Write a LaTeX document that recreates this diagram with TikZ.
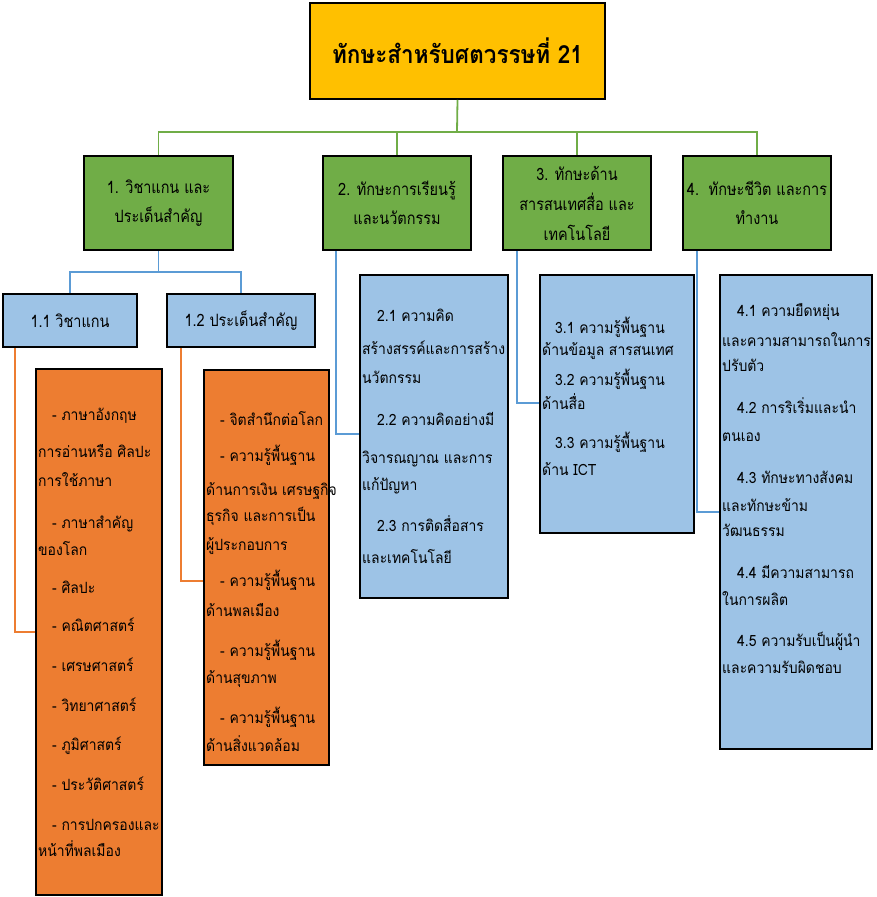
\documentclass[tikz,border=0pt]{standalone}
\usepackage{fontspec}
\setmainfont{Loma}[Script=Thai, FakeStretch=0.9]
\newfontfamily\gfont{Loma}[Script=Thai, FakeStretch=0.85]
\definecolor{gold}{HTML}{FFC000}
\definecolor{grn}{HTML}{70AD47}
\definecolor{bfill}{HTML}{9DC3E6}
\definecolor{bline}{HTML}{5B9BD5}
\definecolor{orng}{HTML}{ED7D31}
\tikzset{
  box/.style={draw=black, line width=1.8pt, inner sep=0pt, align=center},
  bigbox/.style={draw=black, line width=1.4pt, inner sep=0pt},
  gl/.style={draw=grn, line width=1.8pt},
  bl/.style={draw=bline, line width=1.6pt},
  ol/.style={draw=orng, line width=1.6pt},
  ln/.style={font=\fontsize{15.5}{18}\selectfont, text height=11pt, text depth=4pt, inner sep=0pt, anchor=west},
  gtext/.style={font=\gfont\fontsize{17}{29}\selectfont}
}
\begin{document}
\begin{tikzpicture}[x=1pt,y=-1pt]
\useasboundingbox (0,0) rectangle (877,897);
% title
\node[box, fill=gold, minimum width=295pt, minimum height=96pt, font=\fontsize{25}{30}\selectfont\bfseries] (title) at (457.5,51) {ทักษะสำหรับศตวรรษที่ 21};
% green boxes
\node[box, fill=grn, gtext, minimum width=149pt, minimum height=94pt] (g1) at (158.5,203) {1. วิชาแกน และ\\ประเด็นสำคัญ};
\node[box, fill=grn, gtext, minimum width=148pt, minimum height=94pt] (g2) at (397,203) {2. ทักษะการเรียนรู้\\และนวัตกรรม};
\node[box, fill=grn, minimum width=148pt, minimum height=94pt, font=\gfont\fontsize{17}{30}\selectfont] (g3) at (577,203) {3. ทักษะด้าน\\สารสนเทศสื่อ และ\\เทคโนโลยี};
\node[box, fill=grn, gtext, minimum width=148pt, minimum height=94pt] (g4) at (757,203) {4.\ \ ทักษะชีวิต และการ\\ทำงาน};
% small blue boxes
\node[box, fill=bfill, gtext, minimum width=134pt, minimum height=53pt] (s11) at (70,320.5) {1.1 วิชาแกน};
\node[box, fill=bfill, gtext, minimum width=148pt, minimum height=53pt] (s12) at (241,320.5) {1.2 ประเด็นสำคัญ};
% big boxes
\node[bigbox, fill=orng, minimum width=126pt, minimum height=526pt] (o1) at (99,632) {};
\node[bigbox, fill=orng, minimum width=125pt, minimum height=395pt] (o2) at (266.5,567.5) {};
\node[bigbox, fill=bfill, minimum width=148pt, minimum height=323pt] (b2) at (434,436.5) {};
\node[bigbox, fill=bfill, minimum width=154pt, minimum height=258pt] (b3) at (617,404) {};
\node[bigbox, fill=bfill, minimum width=152pt, minimum height=474pt] (b4) at (796,512) {};
% connectors
\coordinate (gbus) at (457,132);
\draw[gl] (title.south) -- (gbus);
\draw[gl] (g1.north) -- (g1.north|-gbus) -- (g4.north|-gbus) -- (g4.north);
\draw[gl] (g2.north) -- (g2.north|-gbus);
\draw[gl] (g3.north) -- (g3.north|-gbus);
\coordinate (bbus) at (158.5,272);
\draw[bl] (g1.south) -- (bbus);
\draw[bl] (s11.north) |- (bbus) -| (s12.north);
\draw[ol] ([xshift=13pt]s11.south west) |- (o1.west);
\draw[ol] ([xshift=15pt]s12.south west) |- ([yshift=-13.5pt]o2.west);
\draw[bl] ([xshift=14pt]g2.south west) |- ([yshift=2.5pt]b2.west);
\draw[bl] ([xshift=15pt]g3.south west) |- ([yshift=1pt]b3.west);
\draw[bl] ([xshift=15pt]g4.south west) |- (b4.west);
% texts
\foreach \yy/\ii/\tx [count=\i] in {417/1/- ภาษาอังกฤษ, 454/0/การอ่านหรือ ศิลปะ, 483/0/การใช้ภาษา, 525/1/- ภาษาสำคัญ, 552/0/ของโลก, 590/1/- ศิลปะ, 628/1/- คณิตศาสตร์, 668/1/- เศรษศาสตร์, 708/1/- วิทยาศาสตร์, 747/1/- ภูมิศาสตร์, 787/1/- ประวัติศาสตร์, 827/1/- การปกครองและ, 853/0/หน้าที่พลเมือง}
  \node[ln] (o1t\i) at ({38+14*\ii},\yy) {\tx};
\foreach \yy/\ii/\tx [count=\i] in {422/1/- จิตสำนึกต่อโลก, 458/1/- ความรู้พื้นฐาน, 492/0/ด้านการเงิน เศรษฐกิจ, 518/0/ธุรกิจ และการเป็น, 547/0/ผู้ประกอบการ, 583/1/- ความรู้พื้นฐาน, 613/0/ด้านพลเมือง, 653/1/- ความรู้พื้นฐาน, 680/0/ด้านสุขภาพ, 720/1/- ความรู้พื้นฐาน, 748/0/ด้านสิ่งแวดล้อม}
  \node[ln] (o2t\i) at ({206+14*\ii},\yy) {\tx};
\foreach \yy/\ii/\tx [count=\i] in {318/1/2.1 ความคิด, 351/0/สร้างสรรค์และการสร้าง, 380/0/นวัตกรรม, 422/1/2.2 ความคิดอย่างมี, 460/0/วิจารณญาณ และการ, 487/0/แก้ปัญหา, 528/1/2.3 การติดสื่อสาร, 560/0/และเทคโนโลยี}
  \node[ln] (b2t\i) at ({362+15*\ii},\yy) {\tx};
\foreach \yy/\ii/\tx [count=\i] in {330/1/3.1 ความรู้พื้นฐาน, 352/0/ด้านข้อมูล สารสนเทศ, 382/1/3.2 ความรู้พื้นฐาน, 406/0/ด้านสื่อ, 445/1/3.3 ความรู้พื้นฐาน, 472/0/ด้าน ICT}
  \node[ln] (b3t\i) at ({542+13*\ii},\yy) {\tx};
\foreach \yy/\ii/\tx [count=\i] in {313/1/4.1 ความยืดหยุ่น, 343/0/และความสามารถในการ, 368/0/ปรับตัว, 410/1/4.2 การริเริ่มและนำ, 438/0/ตนเอง, 480/1/4.3 ทักษะทางสังคม, 508/0/และทักษะข้าม, 533/0/วัฒนธรรม, 575/1/4.4 มีความสามารถ, 602/0/ในการผลิต, 643/1/4.5 ความรับเป็นผู้นำ, 670/0/และความรับผิดชอบ}
  \node[ln] (b4t\i) at ({722+15*\ii},\yy) {\tx};
\end{tikzpicture}
\end{document}
